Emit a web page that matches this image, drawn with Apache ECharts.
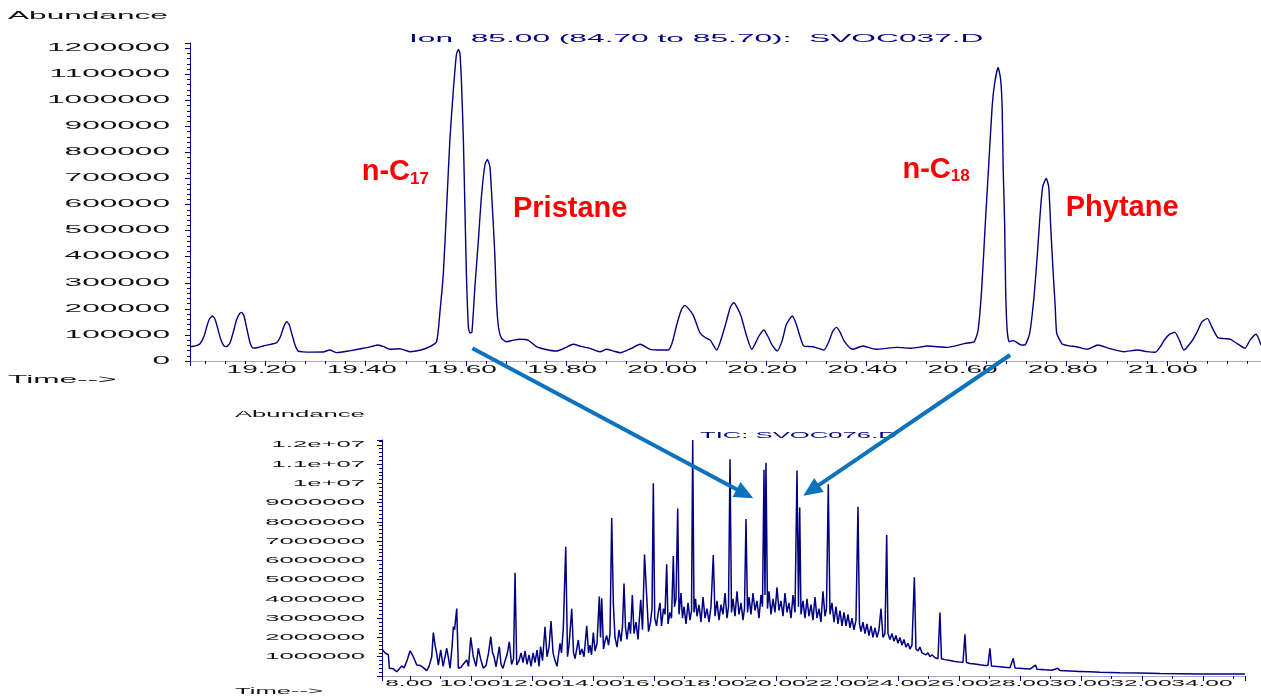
<!DOCTYPE html>
<html>
<head>
<meta charset="utf-8">
<script src="https://cdn.jsdelivr.net/npm/echarts@6/dist/echarts.min.js"></script>
<style>
  html, body { margin: 0; padding: 0; background: #fff; }
  #main { width: 1261px; height: 696px; }
</style>
</head>
<body>
<div id="main"></div>
<script>
// Ion 85 trace (SVOC037.D): retention time in minutes / abundance
const ionTime = [
  19.049, 19.060, 19.069, 19.077, 19.083, 19.088, 19.094, 19.099, 19.104, 19.110,
  19.116, 19.122, 19.129, 19.136, 19.142, 19.148, 19.152, 19.157, 19.163, 19.169,
  19.175, 19.185, 19.195, 19.210, 19.222, 19.230, 19.236, 19.242, 19.247, 19.253,
  19.259, 19.265, 19.275, 19.290, 19.315, 19.328, 19.342, 19.370, 19.395, 19.410,
  19.425, 19.436, 19.448, 19.468, 19.488, 19.510, 19.528, 19.5415, 19.548, 19.555,
  19.561, 19.568, 19.575, 19.581, 19.585, 19.588, 19.591, 19.595, 19.598, 19.601,
  19.605, 19.608, 19.612, 19.618, 19.625, 19.631, 19.638, 19.643, 19.648, 19.651,
  19.655, 19.658, 19.661, 19.665, 19.671, 19.681, 19.695, 19.708, 19.724, 19.741,
  19.760, 19.781, 19.800, 19.814, 19.830, 19.848, 19.868, 19.881, 19.895, 19.908,
  19.930, 19.948, 19.968, 19.990, 20.004, 20.012, 20.021, 20.030, 20.037, 20.045,
  20.054, 20.062, 20.068, 20.078, 20.088, 20.101, 20.110, 20.120, 20.128, 20.135,
  20.142, 20.150, 20.160, 20.171, 20.180, 20.185, 20.195, 20.203, 20.212, 20.222,
  20.232, 20.240, 20.252, 20.260, 20.268, 20.275, 20.293, 20.315, 20.325, 20.333,
  20.340, 20.347, 20.356, 20.372, 20.393, 20.418, 20.461, 20.490, 20.522, 20.562,
  20.597, 20.615, 20.623, 20.630, 20.637, 20.644, 20.651, 20.656, 20.663, 20.668,
  20.671, 20.673, 20.676, 20.678, 20.681, 20.685, 20.692, 20.698, 20.708, 20.716,
  20.726, 20.734, 20.741, 20.747, 20.752, 20.759, 20.764, 20.768, 20.773, 20.777,
  20.780, 20.788, 20.791, 20.805, 20.819, 20.841, 20.862, 20.884, 20.913, 20.941,
  20.960, 20.977, 20.987, 20.995, 21.005, 21.016, 21.025, 21.034, 21.049, 21.060,
  21.070, 21.081, 21.090, 21.102, 21.115, 21.127, 21.142, 21.156, 21.166, 21.178,
  21.188
];
const ionAbund = [
  54800, 58000, 66000, 95000, 135000, 162000, 172500, 160000, 128000, 85000,
  60000, 55000, 70000, 115000, 158000, 182000, 186700, 172000, 120000, 70000,
  50000, 52000, 57500, 64000, 70200, 95000, 130000, 150700, 140000, 100000,
  60000, 38000, 35000, 34000, 34500, 42200, 32000, 40000, 48700, 55000,
  61300, 55000, 44800, 47200, 35700, 42000, 54800, 74000, 184000, 337000,
  567000, 847000, 1040000, 1174000, 1195000, 1181000, 1078000, 847000, 592000, 337000,
  130000, 108500, 110000, 285000, 464000, 630000, 752000, 773000, 745000, 656000,
  515000, 400000, 234000, 131500, 88000, 74000, 80000, 83200, 80500, 54800,
  44000, 38300, 52000, 64000, 56000, 48700, 35700, 44800, 38000, 31800,
  48000, 64000, 44800, 42000, 42200, 70000, 138000, 195000, 213500, 200000,
  176000, 135000, 107000, 90000, 80000, 42000, 85000, 150000, 205000, 223600,
  205000, 170000, 100000, 44800, 75000, 95000, 118900, 95000, 60000, 38300,
  80000, 140000, 172500, 140000, 90000, 57500, 54800, 42200, 75000, 115000,
  129000, 112000, 75000, 44800, 57500, 44800, 52400, 48700, 57500, 52400,
  67800, 74000, 119000, 272000, 515000, 745000, 975000, 1065000, 1126000, 1080000,
  975000, 745000, 528000, 272000, 119000, 74000, 78000, 74000, 62000, 61300,
  106000, 234000, 400000, 567000, 668000, 700000, 668000, 515000, 336000, 208000,
  106000, 74000, 65200, 58000, 54800, 44800, 61300, 48700, 35700, 42200,
  36000, 33300, 55000, 80500, 102000, 110000, 80000, 42200, 74000, 110000,
  150000, 163700, 130000, 89300, 86000, 83200, 65000, 48700, 80000, 102400,
  61300
];

// TIC (SVOC076.D): retention time in minutes / abundance in millions
const ticTime = [
  7.105, 7.180, 7.289, 7.321, 7.443, 7.564, 7.728, 7.803, 7.902, 8.000,
  8.108, 8.220, 8.328, 8.426, 8.548, 8.623, 8.711, 8.764, 8.820, 8.869,
  8.928, 9.007, 9.082, 9.203, 9.262, 9.311, 9.377, 9.420, 9.459, 9.531,
  9.584, 9.672, 9.738, 9.859, 9.918, 9.990, 10.075, 10.164, 10.239, 10.311,
  10.403, 10.492, 10.574, 10.646, 10.705, 10.754, 10.820, 10.928, 10.984, 11.049,
  11.115, 11.180, 11.256, 11.328, 11.393, 11.443, 11.498, 11.574, 11.639, 11.705,
  11.770, 11.836, 11.902, 11.967, 12.033, 12.098, 12.164, 12.230, 12.279, 12.344,
  12.426, 12.492, 12.557, 12.623, 12.689, 12.754, 12.820, 12.918, 12.967, 13.026,
  13.105, 13.164, 13.213, 13.302, 13.361, 13.410, 13.518, 13.574, 13.639, 13.705,
  13.793, 13.852, 13.902, 13.951, 14.010, 14.066, 14.131, 14.207, 14.246, 14.285,
  14.344, 14.393, 14.449, 14.508, 14.557, 14.613, 14.666, 14.721, 14.787, 14.852,
  14.918, 14.967, 15.016, 15.066, 15.115, 15.180, 15.230, 15.289, 15.344, 15.410,
  15.475, 15.564, 15.623, 15.689, 15.761, 15.820, 15.885, 15.934, 15.977, 16.023,
  16.082, 16.131, 16.197, 16.246, 16.311, 16.361, 16.416, 16.459, 16.525, 16.574,
  16.633, 16.672, 16.721, 16.777, 16.820, 16.885, 16.934, 16.984, 17.049, 17.115,
  17.180, 17.230, 17.269, 17.311, 17.361, 17.410, 17.475, 17.541, 17.607, 17.672,
  17.738, 17.803, 17.869, 17.944, 18.000, 18.066, 18.131, 18.197, 18.262, 18.328,
  18.393, 18.443, 18.492, 18.541, 18.590, 18.656, 18.721, 18.787, 18.852, 18.918,
  18.967, 19.016, 19.066, 19.115, 19.180, 19.246, 19.311, 19.377, 19.443, 19.508,
  19.557, 19.607, 19.639, 19.672, 19.721, 19.770, 19.836, 19.902, 19.967, 20.033,
  20.098, 20.164, 20.230, 20.295, 20.361, 20.426, 20.492, 20.557, 20.623, 20.689,
  20.738, 20.777, 20.820, 20.885, 20.951, 21.016, 21.082, 21.148, 21.213, 21.279,
  21.344, 21.410, 21.475, 21.541, 21.607, 21.656, 21.715, 21.770, 21.836, 21.902,
  21.967, 22.033, 22.098, 22.164, 22.230, 22.295, 22.361, 22.426, 22.492, 22.557,
  22.623, 22.689, 22.738, 22.787, 22.852, 22.918, 22.984, 23.049, 23.115, 23.180,
  23.246, 23.311, 23.377, 23.443, 23.508, 23.574, 23.630, 23.672, 23.738, 23.803,
  23.869, 23.934, 24.000, 24.066, 24.131, 24.197, 24.262, 24.328, 24.393, 24.459,
  24.538, 24.590, 24.656, 24.721, 24.787, 24.852, 24.918, 24.984, 25.049, 25.115,
  25.213, 25.311, 25.377, 25.426, 25.541, 25.705, 25.869, 26.033, 26.131, 26.197,
  26.246, 26.361, 26.525, 26.689, 26.852, 26.951, 27.016, 27.066, 27.180, 27.344,
  27.508, 27.672, 27.780, 27.836, 28.000, 28.164, 28.328, 28.511, 28.557, 28.820,
  29.049, 29.239, 29.311, 29.639, 29.967, 30.295, 30.623, 31.279, 31.934, 32.590,
  33.246, 33.902, 34.557, 35.377
];
const ticAbund = [
  1.35, 1.20, 1.09, 0.40, 0.38, 0.22, 0.52, 0.42, 0.80, 1.31,
  1.00, 0.57, 0.55, 0.45, 0.28, 0.50, 1.00, 2.25, 1.60, 1.20,
  0.57, 1.35, 0.50, 1.44, 0.90, 0.40, 1.50, 2.56, 2.40, 3.50,
  0.40, 0.45, 0.60, 0.83, 0.50, 2.00, 1.00, 0.50, 1.44, 0.90,
  0.40, 0.55, 1.20, 2.04, 1.20, 1.00, 0.48, 1.52, 0.60, 0.40,
  0.80, 1.10, 1.78, 0.60, 0.90, 5.36, 0.57, 0.80, 1.20, 0.70,
  1.30, 0.60, 1.10, 0.50, 1.20, 0.70, 1.35, 0.50, 1.52, 0.80,
  2.56, 1.00, 1.50, 2.85, 1.20, 0.80, 0.50, 1.70, 1.20, 2.50,
  6.71, 1.00, 1.60, 3.49, 1.20, 0.90, 1.87, 1.10, 1.40, 1.00,
  2.60, 1.20, 1.60, 1.10, 2.25, 1.30, 1.70, 4.12, 2.00, 4.03,
  1.40, 1.80, 2.10, 1.60, 2.20, 8.20, 3.77, 2.00, 1.50, 2.40,
  1.80, 2.60, 4.80, 2.50, 1.90, 2.80, 2.20, 4.20, 2.20, 2.80,
  1.90, 3.95, 2.40, 6.30, 4.12, 2.30, 2.80, 3.50, 10.00, 3.00,
  2.60, 3.20, 3.80, 2.60, 3.50, 3.20, 5.80, 2.70, 3.30, 3.00,
  6.23, 3.60, 4.00, 8.70, 3.20, 4.30, 3.00, 3.60, 2.70, 3.80,
  2.90, 3.40, 12.25, 3.30, 4.00, 3.10, 3.70, 2.80, 4.10, 3.00,
  3.50, 2.80, 3.60, 6.28, 3.10, 3.90, 2.90, 3.70, 3.20, 4.30,
  3.00, 3.60, 11.25, 3.30, 4.00, 3.10, 4.40, 3.20, 3.80, 2.90,
  3.50, 8.15, 3.30, 4.10, 3.20, 4.30, 3.40, 3.90, 3.00, 4.20,
  3.60, 10.70, 4.20, 11.07, 3.50, 4.40, 3.20, 4.00, 3.30, 4.60,
  3.40, 3.90, 3.10, 4.30, 3.30, 3.80, 3.00, 4.20, 3.30, 10.67,
  3.60, 8.75, 3.20, 3.90, 3.00, 4.00, 3.10, 3.70, 2.90, 4.10,
  3.00, 3.50, 2.80, 4.40, 3.10, 3.50, 9.95, 3.20, 3.80, 2.80,
  3.60, 2.70, 3.40, 2.60, 3.30, 2.60, 3.20, 2.50, 3.00, 2.40,
  2.90, 8.79, 2.70, 2.30, 2.80, 2.20, 2.70, 2.10, 2.60, 2.00,
  2.50, 2.00, 2.40, 3.50, 2.00, 2.20, 7.32, 2.20, 1.90, 2.20,
  1.80, 2.10, 1.70, 2.00, 1.60, 1.90, 1.50, 1.70, 1.40, 1.60,
  5.12, 1.40, 1.30, 1.50, 1.20, 1.30, 1.10, 1.20, 1.00, 1.10,
  0.95, 0.90, 3.30, 0.90, 0.85, 0.80, 0.75, 0.72, 0.70, 2.16,
  0.70, 0.65, 0.62, 0.58, 0.55, 0.55, 1.44, 0.52, 0.50, 0.48,
  0.45, 0.43, 0.92, 0.42, 0.40, 0.38, 0.36, 0.57, 0.35, 0.32,
  0.30, 0.40, 0.28, 0.26, 0.24, 0.22, 0.20, 0.17, 0.15, 0.13,
  0.12, 0.11, 0.10, 0.10
];

// tick labels
const ionYTicks = [0, 100000, 200000, 300000, 400000, 500000, 600000, 700000, 800000, 900000, 1000000, 1100000, 1200000];
const ionXTicks = [19.2, 19.4, 19.6, 19.8, 20.0, 20.2, 20.4, 20.6, 20.8, 21.0];
const ticYTicks = [1, 2, 3, 4, 5, 6, 7, 8, 9, 10, 11, 12];
const ticYLabels = ['1000000', '2000000', '3000000', '4000000', '5000000', '6000000', '7000000', '8000000', '9000000', '1e+07', '1.1e+07', '1.2e+07'];
const ticXTicks = [8, 10, 12, 14, 16, 18, 20, 22, 24, 26, 28, 30, 32, 34];

// peak names, anchored at (time, abundance) of the ion trace
const peakMain = ['n-C', 'Pristane', 'n-C', 'Phytane'];
const peakSub = ['17', '', '18', ''];
const peakTime = [19.392, 19.694, 20.472, 20.798];
const peakAbund = [782700, 642200, 793000, 646000];

// arrows: from ion trace (time, abundance) to TIC (time, abundance in millions)
const arrowFrom = [[19.613, 48700], [20.687, 23000]];
const arrowTo = [[19.256, 9.22], [20.895, 9.36]];

const FONT = "'Liberation Sans', Arial, sans-serif";
const NAVY = '#000080';

const chart = echarts.init(document.getElementById('main'));

function axisBits(tickLen, minorSplit) {
  return {
    axisLine: { show: true, onZero: false, lineStyle: { color: NAVY, width: 1 } },
    axisTick: { show: true, length: tickLen, lineStyle: { color: NAVY } },
    minorTick: { show: true, splitNumber: minorSplit, length: 3, lineStyle: { color: NAVY } },
    axisLabel: { show: false },
    splitLine: { show: false },
    minorSplitLine: { show: false }
  };
}

const option = {
  animation: false,
  backgroundColor: '#fff',
  grid: [
    { left: 190, right: 0, top: 43, bottom: 335, outerBoundsMode: 'none' },
    { left: 382, right: 16, top: 440, bottom: 20, outerBoundsMode: 'none' }
  ],
  xAxis: [
    Object.assign({ gridIndex: 0, type: 'value', min: 19.049, max: 21.188, splitNumber: 10 }, axisBits(5, 5),
      { axisLine: { show: true, onZero: false, lineStyle: { color: '#a8a8d0', width: 1 } } }),
    Object.assign({ gridIndex: 1, type: 'value', min: 7.08, max: 35.38, splitNumber: 14 }, axisBits(5, 2),
      { axisLine: { show: true, onZero: false, lineStyle: { color: '#a8a8d0', width: 1 } } })
  ],
  yAxis: [
    Object.assign({ gridIndex: 0, type: 'value', min: 0, max: 1220000, interval: 100000 }, axisBits(5, 5)),
    Object.assign({ gridIndex: 1, type: 'value', min: 0, max: 12.25, interval: 1 }, axisBits(5, 5))
  ],
  series: [
    {
      type: 'line', xAxisIndex: 0, yAxisIndex: 0,
      data: ionTime.map((t, i) => [t, ionAbund[i]]),
      symbol: 'none', showSymbol: false, smooth: 0.2,
      lineStyle: { color: NAVY, width: 1.4 }, silent: true
    },
    {
      type: 'line', xAxisIndex: 1, yAxisIndex: 1,
      data: ticTime.map((t, i) => [t, ticAbund[i]]),
      symbol: 'none', showSymbol: false,
      lineStyle: { color: NAVY, width: 1.5 }, silent: true
    }
  ]
};
chart.setOption(option);

// stretched instrument-style text
function stretched(x, y, text, size, sx, align, color) {
  return {
    type: 'text', x: x, y: y, scaleX: sx, silent: true, z: 50,
    style: { text: text, fontFamily: FONT, fontSize: size, fill: color || '#111', align: align || 'left', verticalAlign: 'middle' }
  };
}

const g = [];
// top chart texts
g.push(stretched(8, 16, 'Abundance', 10, 3.16));
g.push(stretched(409, 39, 'Ion  85.00 (84.70 to 85.70):  SVOC037.D', 10, 3.17, 'left', NAVY));
g.push(stretched(8, 380, 'Time-->', 10, 3.16));
ionYTicks.forEach(v => {
  const p = chart.convertToPixel({ gridIndex: 0 }, [19.049, v]);
  g.push(stretched(p[0] - 20, p[1], String(v), 10, 3.16, 'right'));
});
ionXTicks.forEach(t => {
  const p = chart.convertToPixel({ gridIndex: 0 }, [t, 0]);
  g.push(stretched(p[0] - 4, p[1] + 9, t.toFixed(2), 10, 2.8, 'center'));
});
// bottom chart texts
g.push(stretched(235, 414, 'Abundance', 9.5, 2.7));
g.push(stretched(700, 435, 'TIC: SVOC076.D', 9.5, 2.7, 'left', NAVY));
g.push(stretched(235, 691, 'Time-->', 9.5, 2.7));
ticYTicks.forEach((v, i) => {
  const p = chart.convertToPixel({ gridIndex: 1 }, [7.08, v]);
  g.push(stretched(p[0] - 17, p[1], ticYLabels[i], 9.5, 2.7, 'right'));
});
ticXTicks.forEach(t => {
  const p = chart.convertToPixel({ gridIndex: 1 }, [t, 0]);
  g.push(stretched(p[0] - 1, p[1] + 7, t.toFixed(2), 9.5, 2.58, 'center'));
});

// red peak names
peakMain.forEach((name, i) => {
  const p = chart.convertToPixel({ gridIndex: 0 }, [peakTime[i], peakAbund[i]]);
  const text = peakSub[i] ? '{m|' + name + '}{s|' + peakSub[i] + '}' : '{m|' + name + '}';
  g.push({
    type: 'text', x: p[0], y: p[1], silent: true, z: 60,
    style: {
      text: text, align: 'left', verticalAlign: 'top',
      rich: {
        m: { fontFamily: FONT, fontSize: 29, fontWeight: 'bold', fill: '#ff0000', lineHeight: 31 },
        s: { fontFamily: FONT, fontSize: 17, fontWeight: 'bold', fill: '#ff0000', lineHeight: 17, verticalAlign: 'bottom' }
      }
    }
  });
});

// blue arrows
arrowFrom.forEach((from, i) => {
  const p0 = chart.convertToPixel({ gridIndex: 0 }, from);
  const p1 = chart.convertToPixel({ gridIndex: 1 }, arrowTo[i]);
  const dx = p1[0] - p0[0], dy = p1[1] - p0[1];
  const len = Math.hypot(dx, dy);
  const ux = dx / len, uy = dy / len;
  const hl = 19, hw = 8.5;
  const bx = p1[0] - ux * hl, by = p1[1] - uy * hl;
  g.push({
    type: 'line', silent: true, z: 70,
    shape: { x1: p0[0], y1: p0[1], x2: bx + ux * 3, y2: by + uy * 3 },
    style: { stroke: '#0b72bd', lineWidth: 4 }
  });
  g.push({
    type: 'polygon', silent: true, z: 70,
    shape: { points: [[p1[0], p1[1]], [bx - uy * hw, by + ux * hw], [bx + uy * hw, by - ux * hw]] },
    style: { fill: '#0b72bd' }
  });
});

chart.setOption({ graphic: g });
</script>
</body>
</html>
